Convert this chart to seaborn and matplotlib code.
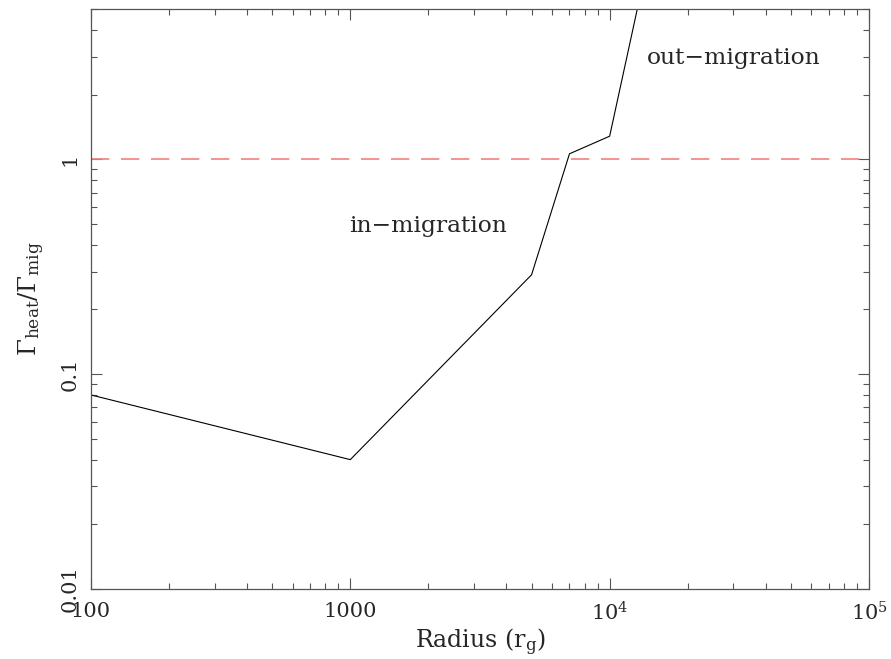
import matplotlib
matplotlib.use("Agg")
import matplotlib.pyplot as plt
import matplotlib.ticker as mticker
import numpy as np
import pandas as pd
import seaborn as sns

# Heating-to-migration torque ratio versus radius
radius = [100, 1000, 5000, 7000, 10000, 20000]
ratio = [0.08, 0.04, 0.29, 1.06, 1.28, 60.0]

xtick_vals = [100, 1000, 1e4, 1e5]
xtick_labels = ["100", "1000", r"$10^4$", r"$10^5$"]
ytick_vals = [0.01, 0.1, 1]
ytick_labels = ["0.01", "0.1", "1"]

sns.set_style("ticks")
plt.rcParams["font.family"] = ["DejaVu Serif"]
plt.rcParams["mathtext.fontset"] = "dejavuserif"
plt.rcParams["mathtext.default"] = "regular"

fig = plt.figure(figsize=(8.91, 6.59), dpi=100)
ax = fig.add_axes([0.1021, 0.1062, 0.8732, 0.8801])

df = pd.DataFrame({"radius": radius, "ratio": ratio})
sns.lineplot(data=df, x="radius", y="ratio", ax=ax, color="black",
             linewidth=0.8, sort=False, estimator=None)
ax.axhline(1.0, color="#f08080", linewidth=1.2, dashes=(11, 7))

ax.set_xscale("log")
ax.set_yscale("log")
ax.set_xlim(100, 1e5)
ax.set_ylim(0.01, 5)

ax.xaxis.set_major_locator(mticker.FixedLocator(xtick_vals))
ax.xaxis.set_major_formatter(mticker.FixedFormatter(xtick_labels))
ax.yaxis.set_major_locator(mticker.FixedLocator(ytick_vals))
ax.yaxis.set_major_formatter(mticker.FixedFormatter(ytick_labels))
ax.xaxis.set_minor_locator(mticker.LogLocator(base=10, subs=np.arange(2, 10)))
ax.yaxis.set_minor_locator(mticker.LogLocator(base=10, subs=np.arange(2, 10)))
ax.xaxis.set_minor_formatter(mticker.NullFormatter())
ax.yaxis.set_minor_formatter(mticker.NullFormatter())

ax.tick_params(which="both", direction="in", top=True, right=True,
               color="#555555", width=0.8)
ax.tick_params(which="major", length=8, labelsize=15)
ax.tick_params(axis="x", which="major", pad=9)
ax.tick_params(axis="y", which="major", pad=8)
ax.tick_params(which="minor", length=4)
for lab in ax.get_yticklabels():
    lab.set_rotation(90)
    lab.set_va("center")

for sp in ax.spines.values():
    sp.set_color("#555555")
    sp.set_linewidth(0.9)

ax.set_xlabel(r"Radius (r$_{\rm g}$)", fontsize=17, labelpad=1)
ax.set_ylabel(r"$\Gamma_{\rm heat}/\Gamma_{\rm mig}$", fontsize=17.5, labelpad=10)

ax.text(2000, 0.49, "in\u2212migration", fontsize=16.8, ha="center", va="center")
ax.text(3e4, 2.95, "out\u2212migration", fontsize=16.8, ha="center", va="center")

fig.savefig("out.png", dpi=100)
